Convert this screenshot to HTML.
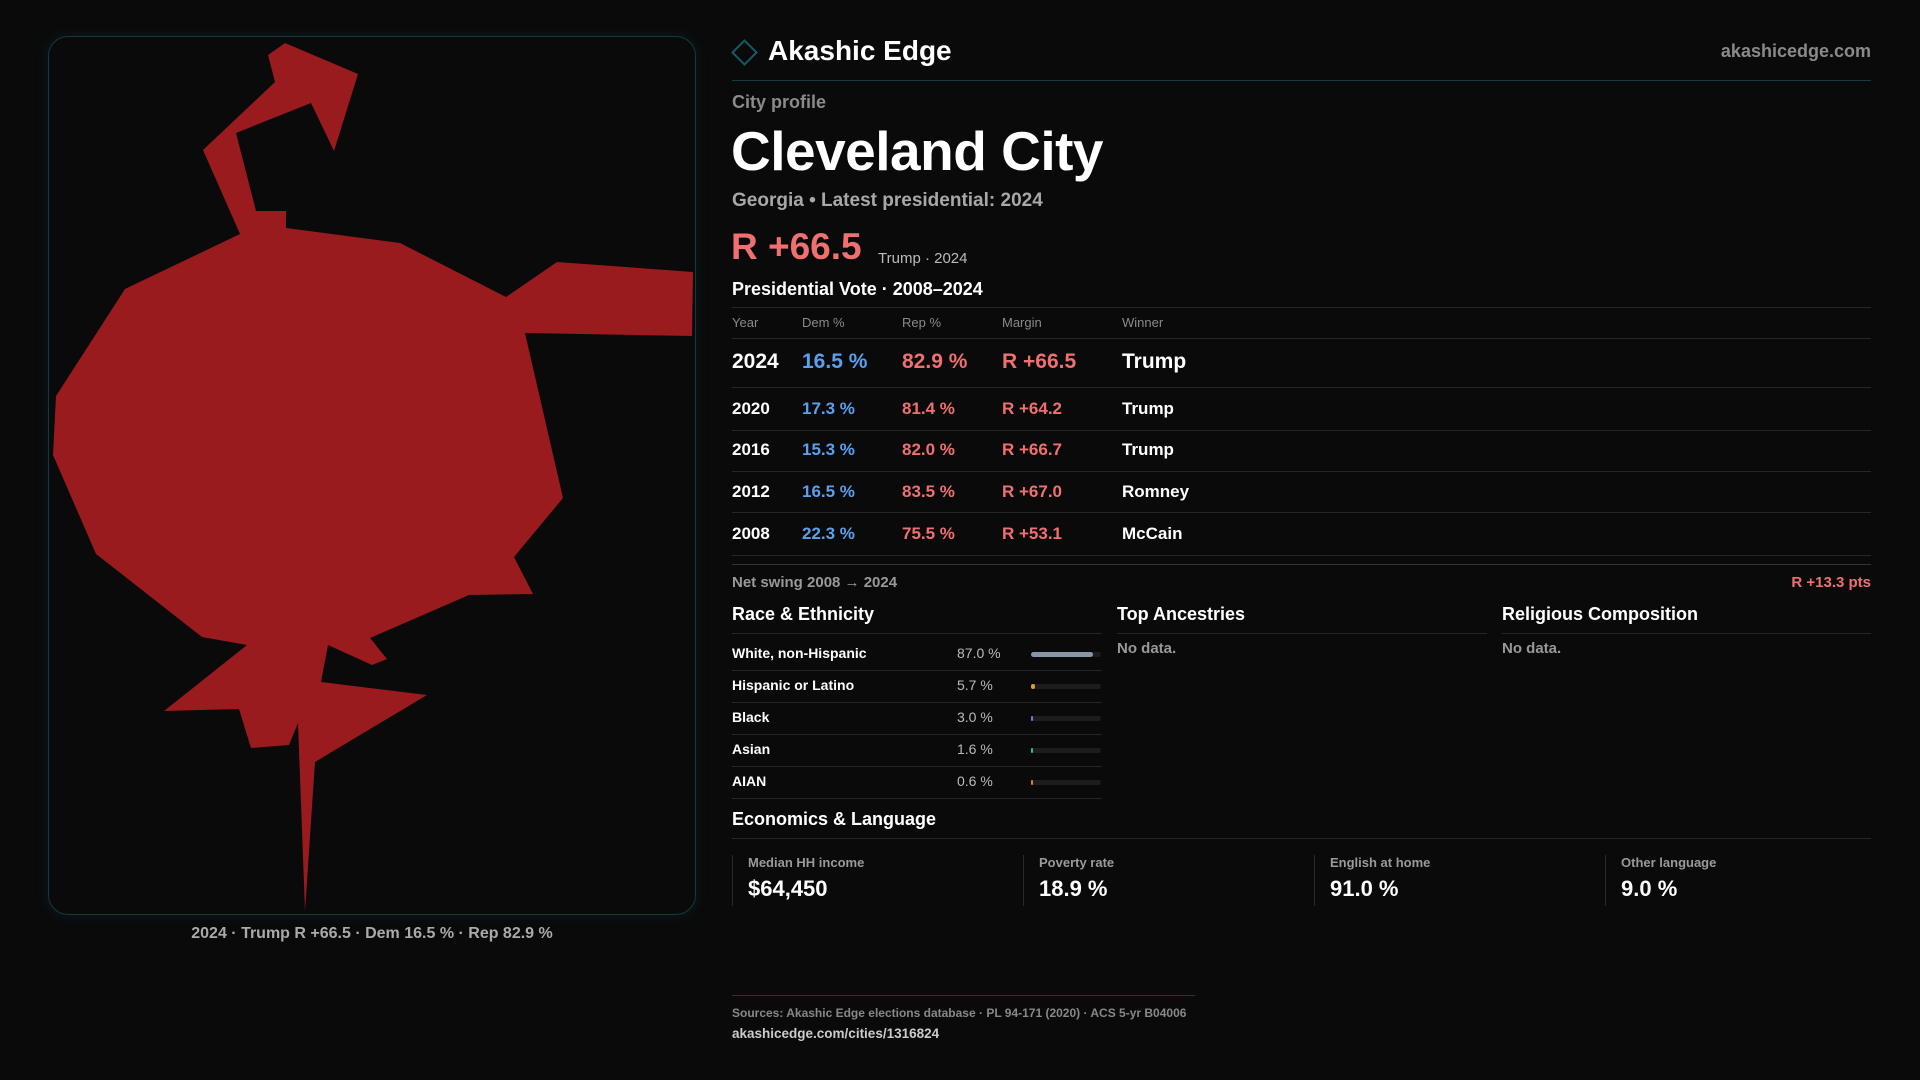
<!DOCTYPE html>
<html><head><meta charset="utf-8">
<style>
*{margin:0;padding:0;box-sizing:border-box}
body{width:1920px;height:1080px;background:#0a0a0b;font-family:"Liberation Sans",sans-serif;position:relative;overflow:hidden;color:#fff}
.a{position:absolute;white-space:nowrap}
.g{color:#9a9a9a}
.hr{position:absolute;height:1px;background:#262626}
.th{position:absolute;font-size:13px;color:#8a8a8a;top:315px}
.row{position:absolute;font-size:17px;font-weight:bold}
.d{color:#5aa0f0}.r{color:#f07070}
.rl{position:absolute;font-size:14px;font-weight:bold;left:732px}
.rv{position:absolute;font-size:14px;color:#bbb;left:957px}
.bar{position:absolute;left:1031px;width:70px;height:5px;background:#1d1d20;border-radius:3px}
.bar i{display:block;height:5px;border-radius:3px}
.card{position:absolute;top:855px;height:51px;border-left:1px solid #2a2a2a;padding-left:15px}
.card .l{font-size:13px;color:#9a9a9a;font-weight:bold}
.card .v{font-size:22px;font-weight:bold;margin-top:6px}
</style></head><body>
<div style="position:absolute;left:48px;top:36px;width:648px;height:879px;border:1px solid #123a40;border-radius:20px;box-shadow:0 0 12px rgba(20,80,90,.25)"></div>
<svg style="position:absolute;left:0;top:0" width="1920" height="1080">
<polygon fill="#991b1e" points="285,43 358,74 334,151 311,103 236,133 256,211 286,211 286,228 400,243 506,297 557,262 693,272 692,336 525,333 563,498 514,557 533,594 469,595 370,638 387,659 372,665 328,645 321,682 427,695 315,762 305,911 298,723 289,745 251,748 239,709 164,711 247,645 202,637 96,554 53,455 56,396 125,289 240,234 203,150 275,82 268,55"/>
</svg>
<div class="a" style="left:48px;width:648px;text-align:center;top:925px;font-size:16px;color:#aaa;font-weight:bold">2024 · Trump R +66.5 · Dem 16.5 % · Rep 82.9 %</div>

<div style="position:absolute;left:735px;top:43px;width:19px;height:19px;border:2px solid #155a64;transform:rotate(45deg)"></div>
<div class="a" style="left:768px;top:35px;font-size:28px;font-weight:bold">Akashic Edge</div>
<div class="a g" style="right:49px;top:41px;font-size:18px;font-weight:bold;color:#8a8a8a">akashicedge.com</div>
<div class="hr" style="left:732px;width:1139px;top:80px;background:#173c42"></div>

<div class="a g" style="left:732px;top:92px;font-size:18px;font-weight:bold;color:#8a8a8a">City profile</div>
<div class="a" style="left:731px;top:119px;font-size:55px;font-weight:bold;letter-spacing:-0.5px">Cleveland City</div>
<div class="a" style="left:732px;top:190px;font-size:19px;font-weight:bold;color:#a8a8a8">Georgia • Latest presidential: 2024</div>
<div class="a r" style="left:731px;top:226px;font-size:37px;font-weight:bold">R +66.5</div>
<div class="a" style="left:878px;top:250px;font-size:15px;color:#bbb">Trump · 2024</div>
<div class="a" style="left:732px;top:279px;font-size:18px;font-weight:bold">Presidential Vote · 2008–2024</div>
<div class="hr" style="left:732px;width:1139px;top:307px"></div>
<div class="th" style="left:732px">Year</div>
<div class="th" style="left:802px">Dem %</div>
<div class="th" style="left:902px">Rep %</div>
<div class="th" style="left:1002px">Margin</div>
<div class="th" style="left:1122px">Winner</div>
<div class="hr" style="left:732px;width:1139px;top:338px"></div>

<div>
<div class="row" style="left:732px;top:350px;font-size:21px">2024</div><div class="row d" style="left:802px;top:350px;font-size:21px">16.5 %</div><div class="row r" style="left:902px;top:350px;font-size:21px">82.9 %</div><div class="row r" style="left:1002px;top:350px;font-size:21px">R +66.5</div><div class="row" style="left:1122px;top:350px;font-size:21px">Trump</div></div>
<div class="hr" style="left:732px;width:1139px;top:387px"></div>
<div>
<div class="row" style="left:732px;top:399px">2020</div><div class="row d" style="left:802px;top:399px">17.3 %</div><div class="row r" style="left:902px;top:399px">81.4 %</div><div class="row r" style="left:1002px;top:399px">R +64.2</div><div class="row" style="left:1122px;top:399px">Trump</div></div>
<div class="hr" style="left:732px;width:1139px;top:430px"></div>
<div>
<div class="row" style="left:732px;top:440px">2016</div><div class="row d" style="left:802px;top:440px">15.3 %</div><div class="row r" style="left:902px;top:440px">82.0 %</div><div class="row r" style="left:1002px;top:440px">R +66.7</div><div class="row" style="left:1122px;top:440px">Trump</div></div>
<div class="hr" style="left:732px;width:1139px;top:471px"></div>
<div>
<div class="row" style="left:732px;top:482px">2012</div><div class="row d" style="left:802px;top:482px">16.5 %</div><div class="row r" style="left:902px;top:482px">83.5 %</div><div class="row r" style="left:1002px;top:482px">R +67.0</div><div class="row" style="left:1122px;top:482px">Romney</div></div>
<div class="hr" style="left:732px;width:1139px;top:512px"></div>
<div>
<div class="row" style="left:732px;top:524px">2008</div><div class="row d" style="left:802px;top:524px">22.3 %</div><div class="row r" style="left:902px;top:524px">75.5 %</div><div class="row r" style="left:1002px;top:524px">R +53.1</div><div class="row" style="left:1122px;top:524px">McCain</div></div>
<div class="hr" style="left:732px;width:1139px;top:555px"></div>
<div class="hr" style="left:732px;width:1139px;top:564px;background:#333"></div>

<div class="a" style="left:732px;top:574px;font-size:15px;font-weight:bold;color:#999">Net swing 2008 → 2024</div>
<div class="a r" style="right:49px;top:574px;font-size:15px;font-weight:bold">R +13.3 pts</div>

<div class="a" style="left:732px;top:604px;font-size:18px;font-weight:bold">Race &amp; Ethnicity</div>
<div class="a" style="left:1117px;top:604px;font-size:18px;font-weight:bold">Top Ancestries</div>
<div class="a" style="left:1502px;top:604px;font-size:18px;font-weight:bold">Religious Composition</div>
<div class="hr" style="left:732px;width:370px;top:633px"></div>
<div class="hr" style="left:1117px;width:370px;top:633px"></div>
<div class="hr" style="left:1502px;width:369px;top:633px"></div>
<div class="a" style="left:1117px;top:640px;font-size:15px;color:#999;font-weight:bold">No data.</div>
<div class="a" style="left:1502px;top:640px;font-size:15px;color:#999;font-weight:bold">No data.</div>
<div id="race"></div>

<div class="a" style="left:732px;top:809px;font-size:18px;font-weight:bold">Economics &amp; Language</div>
<div class="hr" style="left:732px;width:1139px;top:838px"></div>
<div class="card" style="left:732px"><div class="l">Median HH income</div><div class="v">$64,450</div></div>
<div class="card" style="left:1023px"><div class="l">Poverty rate</div><div class="v">18.9 %</div></div>
<div class="card" style="left:1314px"><div class="l">English at home</div><div class="v">91.0 %</div></div>
<div class="card" style="left:1605px"><div class="l">Other language</div><div class="v">9.0 %</div></div>

<div class="hr" style="left:732px;width:463px;top:995px;background:#173c42"></div>
<div class="a" style="left:732px;top:1006px;font-size:12px;color:#888;font-weight:bold">Sources: Akashic Edge elections database · PL 94-171 (2020) · ACS 5-yr B04006</div>
<div class="a" style="left:732px;top:1026px;font-size:13.5px;color:#ccc;font-weight:bold">akashicedge.com/cities/1316824</div>

<script>
const raceLabels=["White, non-Hispanic","Hispanic or Latino","Black","Asian","AIAN"];
const raceValues=[87.0,5.7,3.0,1.6,0.6];
const raceColors=["#8a96a8","#e0a020","#8a70e0","#30c090","#e08030"];
const host=document.getElementById('race');
raceLabels.forEach((lab,i)=>{
  const y=645+i*32;
  const l=document.createElement('div');l.className='rl';l.style.top=y+'px';l.textContent=lab;
  
  
  const v=document.createElement('div');v.className='rv';v.style.top=y+'px';v.textContent=raceValues[i].toFixed(1)+' %';
  
  
  const b=document.createElement('div');b.className='bar';b.style.top=(y+7)+'px';
  
  
  const f=document.createElement('i');f.style.width=Math.max(2,raceValues[i]/100*70*1.02)+'px';f.style.background=raceColors[i];
  
  
  b.appendChild(f);
  const h=document.createElement('div');h.className='hr';h.style.cssText='left:732px;width:370px;top:'+(y+25)+'px';
  
  
  host.append(l,v,b,h);
});
</script>
</body></html>
